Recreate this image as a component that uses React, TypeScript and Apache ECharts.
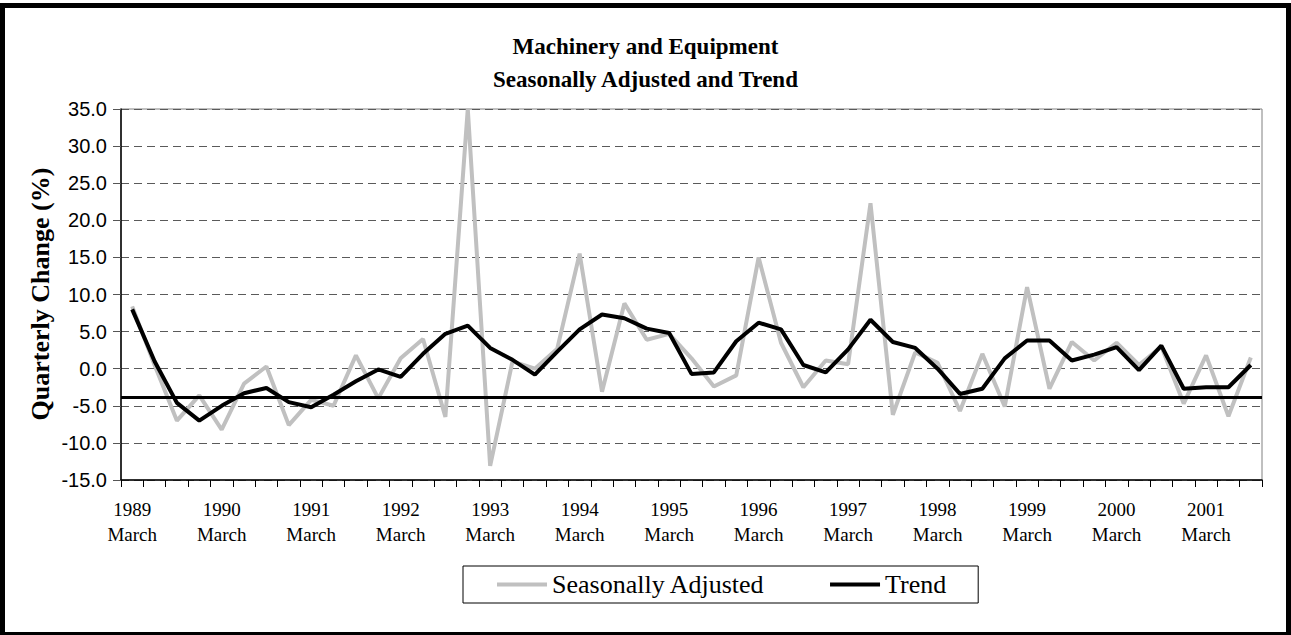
import React, { useEffect, useRef } from "react";
import * as echarts from "echarts";

const YEARS = [1989, 1990, 1991, 1992, 1993, 1994, 1995, 1996, 1997, 1998, 1999, 2000, 2001];
const QUARTER_MONTHS = ["March", "June", "September", "December"];
const QUARTER_COUNT = 51;

const SEASONALLY_ADJUSTED = [
  8.4, 0.5, -7.0, -3.6, -8.2, -2.0, 0.3, -7.6, -4.2, -5.0, 1.8, -4.0,
  1.4, 4.0, -6.5, 35.0, -13.1, 1.0, 0.0, 2.7, 15.5, -3.1, 8.8, 3.9,
  4.7, 1.4, -2.4, -0.9, 15.0, 3.5, -2.5, 1.1, 0.6, 22.3, -6.2, 2.2,
  0.8, -5.7, 2.0, -5.1, 11.0, -2.7, 3.6, 1.1, 3.5, 0.5, 3.0, -4.7,
  1.8, -6.4, 1.5,
];

const TREND = [
  8.0, 1.0, -4.6, -7.0, -5.0, -3.3, -2.6, -4.5, -5.2, -3.5, -1.7, -0.1,
  -1.1, 2.0, 4.7, 5.8, 2.8, 1.2, -0.8, 2.3, 5.3, 7.3, 6.8, 5.4,
  4.8, -0.7, -0.5, 3.7, 6.2, 5.3, 0.5, -0.5, 2.6, 6.6, 3.6, 2.8,
  0.0, -3.4, -2.7, 1.4, 3.8, 3.8, 1.1, 1.9, 2.9, -0.2, 3.1, -2.7,
  -2.5, -2.5, 0.5,
];

const REFERENCE_LEVEL = -3.9;

const Y_MIN = -15;
const Y_MAX = 35;
const Y_STEP = 5;

const CATEGORIES: string[] = [];
for (let i = 0; i < QUARTER_COUNT; i++) {
  const y = YEARS[Math.floor(i / 4)];
  CATEGORIES.push(y + "\n" + QUARTER_MONTHS[i % 4]);
}

export default function App() {
  const ref = useRef<HTMLDivElement>(null);

  useEffect(() => {
    if (!ref.current) return;
    const chart = echarts.init(ref.current, null, { renderer: "svg" });
    const serif = "Liberation Serif";
    const sans = "Liberation Sans";
    chart.setOption({
      animation: false,
      backgroundColor: "#ffffff",
      textStyle: { fontFamily: serif },
      title: {
        text: "Machinery and Equipment\nSeasonally Adjusted and Trend",
        left: "center",
        top: 25,
        textStyle: {
          fontFamily: serif,
          fontWeight: "bold",
          fontSize: 23,
          lineHeight: 33,
          color: "#000",
        },
      },
      legend: {
        left: 463,
        top: 566,
        orient: "horizontal",
        borderColor: "#000",
        borderWidth: 1,
        padding: [5, 32, 5, 34],
        itemGap: 65,
        itemWidth: 50,
        itemHeight: 4,
        icon: "rect",
        textStyle: { fontFamily: serif, fontSize: 26, lineHeight: 27, color: "#000" },
        data: [
          { name: "Seasonally Adjusted", itemStyle: { color: "#C0C0C0" } },
          { name: "Trend", itemStyle: { color: "#000000" } },
        ],
      },
      grid: {
        left: 121,
        right: 29,
        top: 109,
        bottom: 155,
        show: true,
        borderColor: "#808080",
        borderWidth: 1,
      },
      xAxis: {
        type: "category",
        data: CATEGORIES,
        boundaryGap: true,
        axisLine: { show: true, onZero: false, lineStyle: { color: "#000", width: 1.5 } },
        axisTick: { show: true, interval: 0, length: 7, lineStyle: { color: "#000", width: 1 } },
        axisLabel: {
          interval: 3,
          margin: 17,
          fontFamily: serif,
          fontSize: 19,
          lineHeight: 25,
          color: "#000",
          formatter: (v: string) => {
            const parts = v.split("\n");
            return parts[0] + "\n" + parts[1];
          },
        },
        splitLine: { show: false },
      },
      yAxis: {
        type: "value",
        min: Y_MIN,
        max: Y_MAX,
        interval: Y_STEP,
        axisLine: { show: true, lineStyle: { color: "#000", width: 1.5 } },
        axisTick: { show: true, length: 9, lineStyle: { color: "#555", width: 1, type: [8, 5] } },
        axisLabel: {
          margin: 14,
          fontFamily: sans,
          fontSize: 20,
          color: "#000",
          formatter: (v: number) => v.toFixed(1),
        },
        splitLine: {
          show: true,
          lineStyle: { color: "#5a5a5a", width: 1, type: [8, 5] },
        },
      },
      graphic: [
        {
          type: "text",
          x: 40,
          y: 294,
          rotation: Math.PI / 2,
          style: {
            text: "Quarterly Change (%)",
            fontFamily: serif,
            fontWeight: "bold",
            fontSize: 26,
            fill: "#000",
            textAlign: "center",
            textVerticalAlign: "middle",
          },
        },
        {
          type: "rect",
          shape: { x: 2.5, y: 5.5, width: 1286, height: 629 },
          style: { fill: "none", stroke: "#000", lineWidth: 5 },
          silent: true,
        },
      ],
      series: [
        {
          name: "Seasonally Adjusted",
          type: "line",
          data: SEASONALLY_ADJUSTED,
          symbol: "none",
          lineStyle: { color: "#C0C0C0", width: 4 },
          itemStyle: { color: "#C0C0C0" },
          z: 2,
        },
        {
          name: "Trend",
          type: "line",
          data: TREND,
          symbol: "none",
          lineStyle: { color: "#000000", width: 4 },
          itemStyle: { color: "#000000" },
          z: 3,
          markLine: {
            silent: true,
            symbol: "none",
            label: { show: false },
            lineStyle: { color: "#000", width: 3, type: "solid" },
            data: [{ yAxis: REFERENCE_LEVEL }],
          },
        },
      ],
    });
    return () => chart.dispose();
  }, []);

  return (
    <div
      ref={ref}
      style={{ position: "absolute", left: 0, top: 0, width: 1291, height: 635 }}
    />
  );
}
